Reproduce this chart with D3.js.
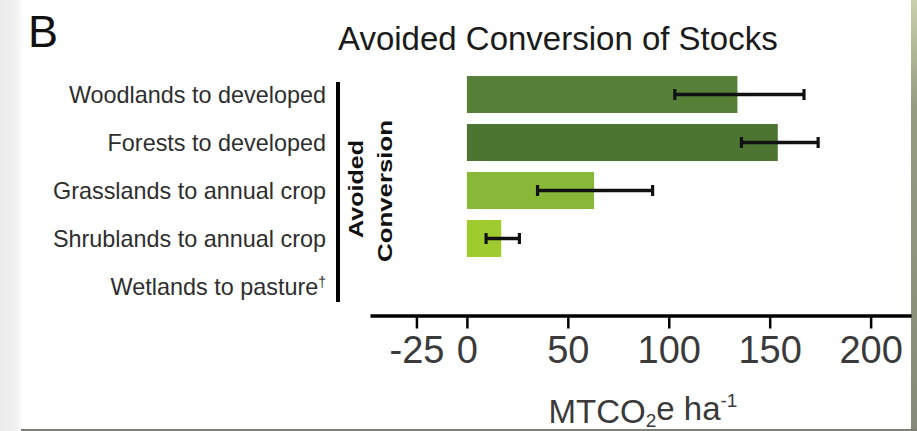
<!DOCTYPE html>
<html>
<head>
<meta charset="utf-8">
<script src="https://cdn.jsdelivr.net/npm/d3@7/dist/d3.min.js"></script>
<style>
  html, body { margin: 0; padding: 0; background: #ffffff; }
  svg { display: block; }
  text { font-family: "Liberation Sans", Arial, Helvetica, sans-serif; }
</style>
</head>
<body>
<svg id="chart" width="917" height="431"></svg>
<script>
// Conversion types and avoided emissions (MTCO2e per hectare)
const categories = [
  "Woodlands to developed",
  "Forests to developed",
  "Grasslands to annual crop",
  "Shrublands to annual crop",
  "Wetlands to pasture"
];
const means = [134, 154, 63, 17, null];
const errLow = [103, 136, 35, 9.5, null];
const errHigh = [167, 174, 92, 26, null];
const barColors = ["#567f38", "#4b7531", "#88b837", "#a0cb2f", "#a0cb2f"];
const tickValues = [-25, 0, 50, 100, 150, 200];

const W = 917, H = 431;
const svg = d3.select("#chart");

// Page frame: soft left shadow, olive right edge, grey bottom edge
const defs = svg.append("defs");
const lg = defs.append("linearGradient").attr("id", "leftShade").attr("x1", 0).attr("x2", 1);
lg.append("stop").attr("offset", "0%").attr("stop-color", "#ebebeb");
lg.append("stop").attr("offset", "70%").attr("stop-color", "#f1f1f1");
lg.append("stop").attr("offset", "100%").attr("stop-color", "#fbfbfb");
const rg = defs.append("linearGradient").attr("id", "rightBand").attr("x1", 0).attr("x2", 0).attr("y1", 0).attr("y2", 1);
rg.append("stop").attr("offset", "0%").attr("stop-color", "#c9d0ab");
rg.append("stop").attr("offset", "25%").attr("stop-color", "#959b80");
rg.append("stop").attr("offset", "100%").attr("stop-color", "#858a78");

svg.append("rect").attr("x", 0).attr("y", 0).attr("width", W).attr("height", H).attr("fill", "#ffffff");
svg.append("rect").attr("x", 0).attr("y", 0).attr("width", 22).attr("height", H).attr("fill", "url(#leftShade)");
svg.append("rect").attr("x", 911).attr("y", 0).attr("width", 6).attr("height", H).attr("fill", "url(#rightBand)");
svg.append("rect").attr("x", 21).attr("y", 429).attr("width", W - 21).attr("height", 2).attr("fill", "#7e8078");

// Scales
const x = d3.scaleLinear().domain([-48, 220]).range([370, 911]);
const y = d3.scaleBand().domain(categories).range([65, 316]).paddingInner(0.23).paddingOuter(0.23);

// Panel letter and title
svg.append("text").attr("x", 28).attr("y", 47)
  .attr("font-size", 45).attr("fill", "#111").text("B");
svg.append("text").attr("x", 338).attr("y", 50)
  .attr("font-size", 33).attr("fill", "#1a1a1a").text("Avoided Conversion of Stocks");

// Bars
const rows = categories.map((c, i) => ({ c, m: means[i], lo: errLow[i], hi: errHigh[i], col: barColors[i] }));
svg.append("g").selectAll("rect").data(rows.filter(d => d.m != null)).join("rect")
  .attr("x", x(0))
  .attr("y", d => y(d.c))
  .attr("width", d => x(d.m) - x(0))
  .attr("height", y.bandwidth())
  .attr("fill", d => d.col);

// Error bars
const eb = svg.append("g").attr("stroke", "#111").attr("fill", "none");
rows.filter(d => d.m != null).forEach(d => {
  const cy = y(d.c) + y.bandwidth() / 2;
  eb.append("line").attr("x1", x(d.lo)).attr("x2", x(d.hi)).attr("y1", cy).attr("y2", cy).attr("stroke-width", 3.6);
  [d.lo, d.hi].forEach(v => {
    eb.append("line").attr("x1", x(v)).attr("x2", x(v)).attr("y1", cy - 5.5).attr("y2", cy + 5.5).attr("stroke-width", 3.2);
  });
});

// Category labels
const lab = svg.append("g").attr("font-size", 23.4).attr("fill", "#2e2e2e").attr("text-anchor", "end");
categories.forEach((c, i) => {
  const t = lab.append("text").attr("x", 326).attr("y", y(c) + y.bandwidth() / 2).attr("dy", "0.36em");
  if (i === categories.length - 1) {
    t.append("tspan").text(c);
    t.append("tspan").attr("font-size", 14).attr("fill", "#2e2e2e").attr("dy", "-0.55em").text("\u2020");
  } else {
    t.text(c);
  }
});

// Group bracket and group label
svg.append("line").attr("x1", 338).attr("x2", 338).attr("y1", 82).attr("y2", 302)
  .attr("stroke", "#000").attr("stroke-width", 4);
svg.append("text").attr("transform", "translate(363,189) rotate(-90)")
  .attr("text-anchor", "middle").attr("font-size", 21).attr("font-weight", "bold").attr("fill", "#111")
  .attr("textLength", 98).attr("lengthAdjust", "spacingAndGlyphs").text("Avoided");
svg.append("text").attr("transform", "translate(392,191) rotate(-90)")
  .attr("text-anchor", "middle").attr("font-size", 21).attr("font-weight", "bold").attr("fill", "#111")
  .attr("textLength", 142).attr("lengthAdjust", "spacingAndGlyphs").text("Conversion");

// X axis
const xAxis = d3.axisBottom(x).tickValues(tickValues)
  .tickSizeInner(13).tickSizeOuter(0).tickPadding(8)
  .tickFormat(d => String(d));
const ax = svg.append("g").attr("transform", "translate(0,315.5)").call(xAxis);
ax.select(".domain").attr("stroke", "#000").attr("stroke-width", 3.5);
ax.selectAll(".tick line").attr("stroke", "#000").attr("stroke-width", 2.5);
ax.selectAll(".tick text").attr("font-size", 38).attr("fill", "#3a3a3a")
  .attr("font-family", "'Liberation Sans', Arial, sans-serif");

// Axis title
const at = svg.append("text").attr("x", 643).attr("y", 423).attr("text-anchor", "middle")
  .attr("font-size", 33).attr("fill", "#3a3a3a");
at.append("tspan").text("MTCO");
at.append("tspan").attr("font-size", 19).attr("dy", "0.2em").text("2");
at.append("tspan").attr("dy", "-0.2em").text("e ha");
at.append("tspan").attr("font-size", 19).attr("dy", "-0.7em").text("-1");
</script>
</body>
</html>
